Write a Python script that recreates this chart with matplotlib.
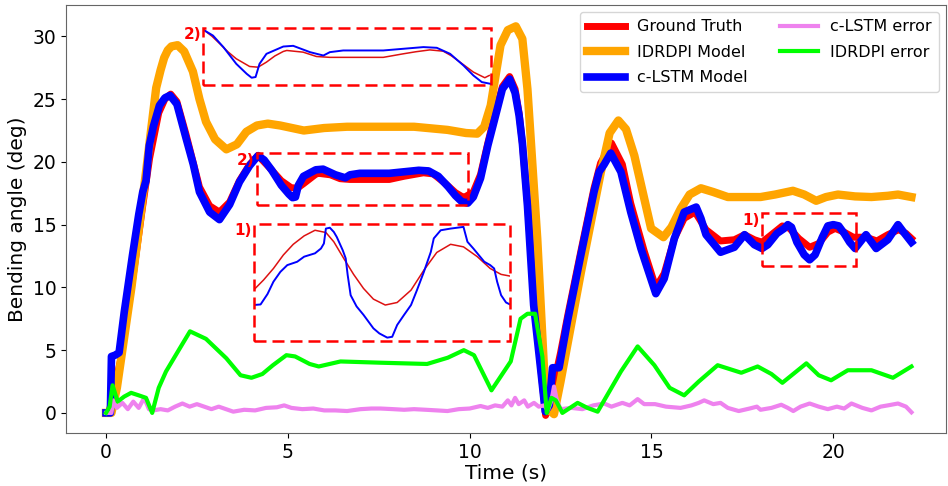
import matplotlib
matplotlib.use("Agg")
import matplotlib.pyplot as plt
from matplotlib.patches import Rectangle

# main curves (time in s, bending angle in deg)
truth_t = [0, 0.08, 0.4, 0.75, 1.0, 1.2, 1.45, 1.62, 1.78, 1.95, 2.2, 2.57, 2.85, 3.12, 3.4, 3.67, 3.95,
           4.18, 4.49, 4.82, 5.09, 5.26, 5.43, 5.77, 5.84, 6.17, 6.44, 6.71, 7.79, 8.19, 8.73, 9.0, 9.34,
           9.61, 9.84, 9.93, 10.1, 10.3, 10.5, 10.67, 10.9, 11.1, 11.25, 11.36, 11.45, 11.59, 11.76, 11.96,
           12.09, 12.2, 12.5, 12.7, 13.06, 13.42, 13.6, 13.9, 14.2, 14.43, 14.8, 15.12, 15.35, 15.63, 15.9,
           16.2, 16.5, 16.9, 17.28, 17.56, 17.83, 18.04, 18.3, 18.6, 18.8, 19.05, 19.35, 19.6, 19.85, 20.05,
           20.3, 20.55, 20.9, 21.2, 21.5, 21.8, 22.0, 22.15]
truth_v = [0, 0.0, 4.2, 11.0, 16.3, 20.3, 23.9, 25.0, 25.4, 24.8, 22.2, 18.0, 16.5, 16.0, 16.8, 18.5, 19.8,
           20.5, 19.56, 18.5, 17.95, 17.9, 18.26, 19.02, 19.09, 18.97, 18.66, 18.6, 18.6, 18.85, 19.13, 19.04, 18.26,
           17.55, 17.15, 17.31, 17.6, 19.0, 21.5, 23.5, 26.0, 26.8, 25.8, 23.9, 21.5, 16.8, 9.5, 3.5,
           -0.2, 0.8, 4.8, 7.8, 12.9, 17.9, 19.9, 21.5, 19.8, 16.7, 12.9, 10.0, 11.1, 13.9, 15.5,
           16.0, 14.6, 13.7, 13.8, 14.2, 13.8, 13.6, 14.2, 14.9, 14.7, 13.9, 13.2, 13.5, 14.4, 14.7,
           14.4, 14.0, 14.0, 13.7, 14.2, 14.6, 14.3, 13.9]

idrdpi_t = [0, 0.15, 0.3, 0.7, 1.1, 1.38, 1.5, 1.6, 1.7, 1.8, 1.97, 2.15, 2.39, 2.57, 2.75, 3.0, 3.31, 3.6,
            3.86, 4.15, 4.45, 4.79, 5.44, 6.0, 6.63, 7.5, 8.47, 9.39, 9.9, 10.21, 10.4, 10.58, 10.85, 11.05,
            11.27, 11.45, 11.59, 11.86, 12.05, 12.2, 12.32, 12.5, 13.06, 13.61, 13.85, 14.09, 14.3, 14.53,
            14.99, 15.33, 15.55, 15.81, 16.05, 16.36, 16.7, 17.1, 17.55, 18.0, 18.4, 18.89, 19.2, 19.53,
            19.8, 20.13, 20.6, 21.05, 21.5, 21.78, 22.15]
idrdpi_v = [0, 0.0, 2.0, 10.0, 19.2, 25.9, 27.3, 28.3, 28.9, 29.2, 29.3, 28.8, 27.2, 25.0, 23.2, 21.8, 21.0, 21.4,
            22.4, 22.9, 23.05, 22.9, 22.5, 22.7, 22.8, 22.8, 22.8, 22.55, 22.3, 22.25, 22.8, 24.5, 29.3, 30.5,
            30.8, 29.8, 25.8, 13.9, 3.3, 0.2, -0.1, 2.5, 11.2, 19.2, 22.3, 23.3, 22.6, 20.5,
            14.7, 14.0, 14.8, 16.3, 17.4, 17.9, 17.6, 17.2, 17.2, 17.2, 17.4, 17.7, 17.4, 16.9,
            17.2, 17.4, 17.25, 17.2, 17.3, 17.4, 17.2]

lstm_t = [0, 0.12, 0.15, 0.25, 0.36, 0.5, 0.73, 0.9, 1.01, 1.1, 1.19, 1.3, 1.47, 1.62, 1.76, 1.95, 2.2, 2.4,
          2.57, 2.85, 3.12, 3.4, 3.67, 3.95, 4.18, 4.35, 4.56, 4.82, 5.03, 5.13, 5.21, 5.29, 5.43, 5.77, 5.97,
          6.31, 6.58, 6.71, 6.98, 7.79, 8.6, 8.87, 9.14, 9.41, 9.61, 9.78, 9.95, 10.1, 10.3, 10.5, 10.67,
          10.9, 11.1, 11.25, 11.36, 11.45, 11.59, 11.76, 11.96, 12.08, 12.19, 12.28, 12.46, 12.69, 13.06,
          13.42, 13.56, 13.7, 13.88, 14.16, 14.43, 14.71, 14.8, 15.12, 15.35, 15.63, 15.9, 16.23, 16.36,
          16.5, 16.9, 17.28, 17.56, 17.83, 18.04, 18.2, 18.45, 18.65, 18.75, 18.85, 19.0, 19.2, 19.35, 19.5,
          19.7, 19.85, 20.0, 20.15, 20.3, 20.45, 20.6, 20.9, 21.18, 21.5, 21.78, 21.96, 22.15]
lstm_v = [0, 0.0, 4.5, 4.6, 4.8, 8.0, 12.6, 15.8, 17.6, 18.5, 21.3, 22.8, 24.5, 25.1, 25.3, 24.6, 21.9, 19.8,
          17.6, 16.0, 15.4, 16.6, 18.4, 19.7, 20.5, 20.15, 19.33, 18.14, 17.43, 17.15, 17.2, 18.14, 18.85, 19.37, 19.42,
          18.97, 18.73, 18.97, 19.09, 19.09, 19.33, 19.28, 18.85, 18.02, 17.31, 16.84, 16.72, 17.2, 18.7, 21.3, 23.2,
          25.8, 26.6, 25.5, 23.7, 21.5, 16.5, 8.6, 3.3, 0.1, 0.6, 3.6, 3.6, 7.3, 12.6,
          17.6, 19.2, 19.8, 20.7, 19.2, 16.0, 13.1, 12.3, 9.5, 10.7, 13.9, 16.0, 16.4, 15.5,
          14.2, 12.8, 13.2, 14.2, 13.4, 13.1, 13.4, 14.3, 14.7, 15.0, 14.8, 13.6, 12.6, 12.2, 12.6,
          14.0, 14.9, 15.0, 14.9, 14.3, 13.6, 13.1, 14.2, 13.1, 13.8, 15.0, 14.3, 13.6]

lstm_err_t = [0, 0.15, 0.2, 0.3, 0.45, 0.6, 0.75, 0.9, 1.05, 1.18, 1.3, 1.5, 1.7, 1.9, 2.1, 2.3, 2.5, 2.7, 2.9,
              3.1, 3.3, 3.5, 3.8, 4.1, 4.4, 4.7, 4.9, 5.1, 5.4, 5.7, 6.0, 6.3, 6.63, 7.0, 7.3, 7.55, 7.9, 8.2,
              8.47, 8.8, 9.1, 9.39, 9.7, 10.0, 10.3, 10.5, 10.7, 10.9, 11.05, 11.15, 11.25, 11.35, 11.5, 11.6,
              11.77, 11.9, 12.05, 12.15, 12.25, 12.32, 12.4, 12.5, 12.8, 13.1, 13.4, 13.7, 13.9, 14.2, 14.4,
              14.62, 14.8, 15.1, 15.4, 15.8, 16.1, 16.3, 16.45, 16.7, 16.9, 17.1, 17.4, 17.7, 17.9, 18.0, 18.3,
              18.57, 18.75, 18.9, 19.1, 19.35, 19.6, 19.85, 20.1, 20.3, 20.5, 20.8, 21.05, 21.3, 21.5, 21.78,
              22.0, 22.15]
lstm_err_v = [0, 0.0, 1.0, 0.4, 0.8, 0.3, 0.9, 0.4, 1.2, 0.3, 0.2, 0.3, 0.2, 0.5, 0.75, 0.5, 0.7, 0.5, 0.3,
              0.5, 0.3, 0.1, 0.25, 0.2, 0.4, 0.45, 0.6, 0.4, 0.3, 0.35, 0.2, 0.2, 0.15, 0.3, 0.35, 0.35, 0.3, 0.25,
              0.3, 0.25, 0.2, 0.15, 0.3, 0.35, 0.55, 0.4, 0.6, 0.5, 1.0, 0.6, 1.2, 0.7, 1.0, 0.5,
              0.8, 0.5, 0.6, 0.2, 1.0, 2.1, 1.0, 0.3, 0.4, 0.3, 0.6, 0.75, 0.5, 0.8, 0.6,
              1.1, 0.7, 0.7, 0.5, 0.4, 0.6, 0.8, 1.0, 0.7, 0.8, 0.4, 0.15, 0.35, 0.5, 0.25, 0.4,
              0.65, 0.4, 0.15, 0.5, 0.75, 0.5, 0.3, 0.5, 0.35, 0.75, 0.4, 0.2, 0.5, 0.6, 0.75,
              0.5, 0.05]

idrdpi_err_t = [0, 0.1, 0.18, 0.32, 0.5, 0.69, 0.9, 1.1, 1.27, 1.45, 1.65, 2.02, 2.31, 2.75, 3.31, 3.7, 4.0,
                4.3, 4.59, 4.96, 5.2, 5.6, 5.85, 6.45, 7.55, 8.83, 9.4, 9.84, 10.12, 10.6, 11.13, 11.4, 11.59,
                11.8, 12.0, 12.12, 12.25, 12.37, 12.55, 12.97, 13.24, 13.52, 14.16, 14.62, 15.08, 15.5, 15.9,
                16.3, 16.82, 17.47, 17.92, 18.3, 18.6, 19.26, 19.6, 19.94, 20.4, 21.05, 21.64, 22.15]
idrdpi_err_v = [0, 0.5, 2.2, 0.9, 1.3, 1.6, 1.4, 1.2, 0.0, 2.0, 3.3, 5.1, 6.5, 5.9, 4.35, 3.0, 2.8,
                3.1, 3.8, 4.6, 4.5, 3.9, 3.7, 4.1, 4.0, 3.9, 4.4, 5.0, 4.6, 1.8, 4.1, 7.5, 7.9,
                7.9, 4.5, 0.0, 1.2, 1.0, 0.0, 0.8, 0.4, 0.1, 3.3, 5.3, 3.8, 2.0, 1.4,
                2.5, 3.8, 3.2, 3.7, 3.1, 2.4, 3.95, 3.0, 2.6, 3.4, 3.4, 2.8, 3.7]

# zoomed views shown in the dashed insets
zoom2_truth_t = [4.18, 4.33, 4.49, 4.65, 4.82, 5.09, 5.26, 5.43, 5.6, 5.77, 5.84, 6.17, 6.44, 6.71, 7.79,
                 8.19, 8.45, 8.73, 9.0, 9.17, 9.34, 9.61, 9.84, 9.93]
zoom2_truth_v = [20.51, 20.1, 19.56, 19.0, 18.5, 17.95, 17.9, 18.26, 18.7, 19.02, 19.09, 18.97, 18.66, 18.6,
                 18.6, 18.85, 19.0, 19.13, 19.04, 18.7, 18.26, 17.55, 17.15, 17.31]
zoom2_lstm_t = [4.18, 4.35, 4.56, 4.82, 5.03, 5.13, 5.21, 5.29, 5.43, 5.77, 5.97, 6.31, 6.58, 6.71, 6.98,
                7.79, 8.6, 8.87, 9.14, 9.41, 9.61, 9.78, 9.95]
zoom2_lstm_v = [20.51, 20.15, 19.33, 18.14, 17.43, 17.15, 17.2, 18.14, 18.85, 19.37, 19.42, 18.97, 18.73,
                18.97, 19.09, 19.09, 19.33, 19.28, 18.85, 18.02, 17.31, 16.84, 16.72]
zoom1_truth_t = [18.05, 18.14, 18.24, 18.34, 18.44, 18.55, 18.66, 18.77, 18.85, 18.95, 19.05, 19.15, 19.25,
                 19.37, 19.49, 19.63, 19.76, 19.89, 20.03, 20.16, 20.3, 20.43, 20.54, 20.63]
zoom1_truth_v = [13.58, 13.9, 14.31, 14.79, 15.17, 15.47, 15.67, 15.59, 15.26, 14.67, 14.1, 13.6, 13.22,
                 13.01, 13.1, 13.54, 14.25, 14.88, 15.17, 15.08, 14.73, 14.31, 14.1, 14.04]
zoom1_lstm_t = [18.04, 18.11, 18.18, 18.24, 18.31, 18.38, 18.48, 18.55, 18.66, 18.72, 18.75, 18.77, 18.81,
                18.85, 18.88, 18.94, 18.97, 18.99, 19.02, 19.08, 19.15, 19.25, 19.31, 19.39, 19.44, 19.49,
                19.56, 19.63, 19.69, 19.76, 19.83, 19.86, 19.93, 20.03, 20.16, 20.2, 20.26, 20.37, 20.43,
                20.47, 20.5, 20.54, 20.59, 20.63]
zoom1_lstm_v = [13.01, 13.03, 13.4, 13.84, 14.19, 14.43, 14.55, 14.73, 14.85, 15.02, 15.2, 15.73, 15.76,
                15.61, 15.43, 14.96, 14.67, 14.08, 13.36, 12.96, 12.66, 12.18, 12.0, 11.85, 11.88, 12.3,
                12.66, 13.01, 13.54, 14.19, 14.9, 15.38, 15.67, 15.73, 15.79, 15.26, 15.02, 14.55, 14.43,
                14.31, 13.84, 13.36, 13.1, 13.03]

# (window x0, x1, y0, y1) and where the magnified copy sits
win2 = (4.15, 9.96, 16.6, 20.7)
place2 = (2.67, 10.58, 26.09, 30.68)
win1 = (18.04, 20.63, 11.73, 15.91)
place1 = (4.06, 11.11, 5.73, 15.09)

fig = plt.figure(figsize=(9.48, 4.86), dpi=100)
ax = fig.add_axes([66 / 948, 53 / 486, 880 / 948, 428 / 486])

ax.plot(truth_t, truth_v, color='red', lw=5, label='Ground Truth')
ax.plot(idrdpi_t, idrdpi_v, color='orange', lw=6, label='IDRDPI Model')
ax.plot(lstm_t, lstm_v, color='blue', lw=5.5, label='c-LSTM Model')
ax.plot(lstm_err_t, lstm_err_v, color='violet', lw=3, label='c-LSTM error')
ax.plot(idrdpi_err_t, idrdpi_err_v, color='lime', lw=3, label='IDRDPI error')

ax.set_xlim(-1.1, 23.1)
ax.set_ylim(-1.6, 32.5)
ax.set_xticks([0, 5, 10, 15, 20])
ax.set_yticks([0, 5, 10, 15, 20, 25, 30])
ax.tick_params(labelsize=13.5)
ax.set_xlabel('Time (s)', fontsize=14.5, labelpad=1)
ax.set_ylabel('Bending angle (deg)', fontsize=14.5, labelpad=4)
for s in ax.spines.values():
    s.set_color('#666666')

dash = (0, (4.8, 2.4))


def dashed_box(x0, x1, y0, y1, label):
    ax.add_patch(Rectangle((x0, y0), x1 - x0, y1 - y0, fill=False, ec='red', lw=1.8, ls=dash, zorder=6))
    ax.annotate(label, (x0, y1), xytext=(-1.5, -5), textcoords='offset points', ha='right', va='center',
                color='red', fontsize=11, fontweight='bold', zorder=7)


def magnified(win, place, tt, tv, lt, lv):
    ins = ax.inset_axes([place[0], place[2], place[1] - place[0], place[3] - place[2]], transform=ax.transData)
    ins.plot(tt, tv, color='#dd1111', lw=1.1)
    ins.plot(lt, lv, color='blue', lw=1.4)
    ins.set_xlim(win[0], win[1])
    ins.set_ylim(win[2], win[3])
    ins.axis('off')
    ins.patch.set_alpha(0)


dashed_box(*win2, '2)')
dashed_box(*place2, '2)')
dashed_box(*win1, '1)')
dashed_box(*place1, '1)')
magnified(win2, place2, zoom2_truth_t, zoom2_truth_v, zoom2_lstm_t, zoom2_lstm_v)
magnified(win1, place1, zoom1_truth_t, zoom1_truth_v, zoom1_lstm_t, zoom1_lstm_v)

leg = ax.legend(loc='upper right', ncol=2, fontsize=11.5, handlelength=2.4, handletextpad=0.75,
                borderpad=0.45, labelspacing=0.65, columnspacing=2.0, borderaxespad=0.45)

fig.savefig('out.png', dpi=100)
